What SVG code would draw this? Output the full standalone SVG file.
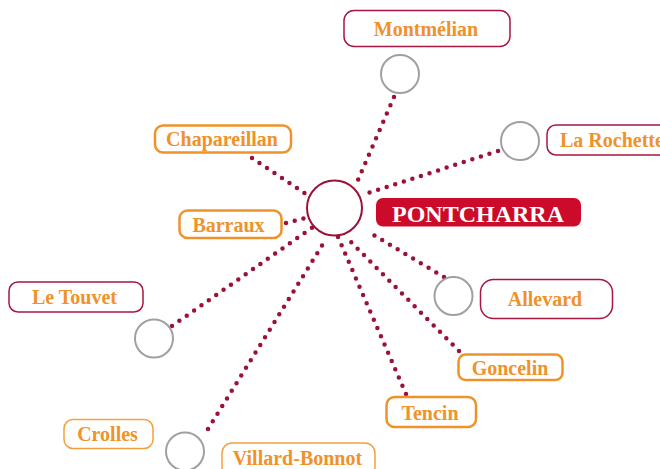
<svg xmlns="http://www.w3.org/2000/svg" width="660" height="469" viewBox="0 0 660 469">
<style>
.lbl{font-family:"Liberation Serif","Times New Roman",serif;font-weight:bold;font-size:20px;fill:#f0922a;text-anchor:middle}
.red{fill:#fff;stroke:#a8173f;stroke-width:1.5}
.org{fill:#fff;stroke:#f0922a;stroke-width:2.5}
.org2{fill:#fff;stroke:#f5a040;stroke-width:1.5}
.st{fill:#fff;stroke:#a0a0a0;stroke-width:2}
.dot{stroke:#9b1236;stroke-width:4.5;stroke-linecap:round;stroke-dasharray:0 9;fill:none}
</style>
<g id="connectors">
<line class="dot" x1="252" y1="158" x2="306" y2="194"/>
<line class="dot" x1="286" y1="223" x2="305" y2="218"/>
<line class="dot" x1="172" y1="326" x2="313" y2="227"/>
<line class="dot" x1="208" y1="429" x2="323" y2="244"/>
<line class="dot" x1="406" y1="394" x2="338" y2="237"/>
<line class="dot" x1="459" y1="351" x2="346" y2="237"/>
<line class="dot" x1="444" y1="277" x2="367" y2="231"/>
<line class="dot" x1="498" y1="151" x2="365" y2="194"/>
<line class="dot" x1="394" y1="97" x2="358" y2="180"/>
</g>
<g id="pontcharra">
<circle cx="334.5" cy="208" r="27.5" fill="#fff" stroke="#9b1236" stroke-width="2"/>
<rect x="376" y="198" width="205" height="28.5" rx="7" fill="#cc0a29"/>
<text x="478" y="221.5" style="font-family:'Liberation Serif','Times New Roman',serif;font-weight:bold;font-size:24px;fill:#fff;text-anchor:middle">PONTCHARRA</text>
</g>
<g id="montmelian">
<circle class="st" cx="400" cy="74" r="19"/>
<rect class="red" x="344" y="10.5" width="166" height="36" rx="10"/>
<text class="lbl" x="426" y="35.5">Montmélian</text>
</g>
<g id="la-rochette">
<circle class="st" cx="520" cy="141" r="19"/>
<rect class="red" x="547" y="125" width="130" height="30" rx="9"/>
<text class="lbl" x="560" y="147" style="text-anchor:start">La Rochette</text>
</g>
<g id="chapareillan">
<rect class="org" x="155" y="125.5" width="136" height="27" rx="8"/>
<text class="lbl" x="222" y="146">Chapareillan</text>
</g>
<g id="barraux">
<rect class="org" x="179.5" y="210.5" width="102" height="27.5" rx="8"/>
<text class="lbl" x="228.5" y="231.5">Barraux</text>
</g>
<g id="le-touvet">
<circle class="st" cx="154" cy="338.5" r="19"/>
<rect class="red" x="9" y="282" width="134" height="30" rx="9"/>
<text class="lbl" x="74.5" y="304">Le Touvet</text>
</g>
<g id="crolles">
<rect class="org2" x="64" y="419.5" width="89" height="29" rx="9"/>
<text class="lbl" x="107.5" y="440.5">Crolles</text>
</g>
<g id="villard-bonnot">
<circle class="st" cx="185" cy="451.5" r="19"/>
<rect class="org2" x="222" y="443" width="153" height="34" rx="10"/>
<text class="lbl" x="297.5" y="465">Villard-Bonnot</text>
</g>
<g id="tencin">
<rect class="org" x="386.5" y="397" width="89.5" height="30" rx="8"/>
<text class="lbl" x="430" y="420">Tencin</text>
</g>
<g id="goncelin">
<rect class="org" x="458.5" y="354.5" width="104" height="25.5" rx="7"/>
<text class="lbl" x="510" y="375">Goncelin</text>
</g>
<g id="allevard">
<circle class="st" cx="453.5" cy="296" r="19"/>
<rect class="red" x="480.5" y="279.5" width="132" height="39" rx="13"/>
<text class="lbl" x="545" y="306">Allevard</text>
</g>
</svg>
